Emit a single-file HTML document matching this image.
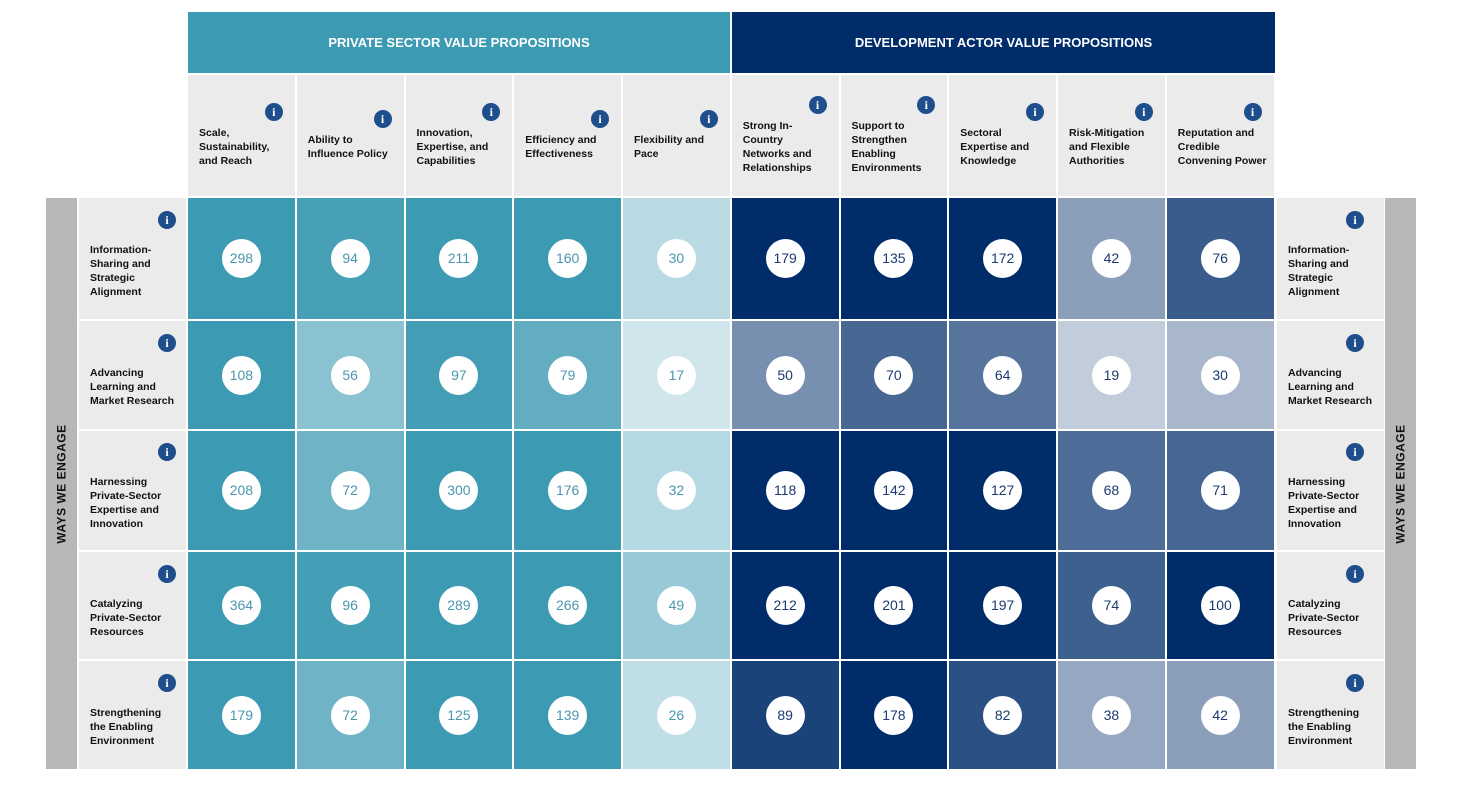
<!DOCTYPE html>
<html><head><meta charset="utf-8"><style>
body{margin:0;width:1460px;height:792px;background:#fff;font-family:"Liberation Sans",sans-serif;position:relative;overflow:hidden}
.a{position:absolute;box-sizing:border-box}
.hdr{color:#fff;font-weight:bold;font-size:13px;display:flex;align-items:center;justify-content:center}
.ch{background:#ebebeb;font-weight:bold;font-size:10.5px;line-height:14px;color:#111;padding-left:11px}
.ch span{position:absolute;left:11px;bottom:0;white-space:nowrap}
.info{position:absolute;width:18px;height:18px;border-radius:50%;background:#1f4e8c;color:#fff;font:bold 12px "Liberation Serif",serif;text-align:center;line-height:18px}
.rl{background:#ebebeb;font-weight:bold;font-size:10.5px;line-height:14px;color:#111}
.circ{position:absolute;width:39px;height:39px;border-radius:50%;background:#fff;text-align:center;line-height:39px;font-size:14px}
.side{background:#b7b7b7;color:#111;font-weight:bold;font-size:12px;display:flex;align-items:center;justify-content:center}
.side div{transform:rotate(-90deg);white-space:nowrap;letter-spacing:.5px}
</style></head><body>
<div class="a hdr" style="left:188px;top:12px;width:542px;height:61px;background:#3d9ab3">PRIVATE SECTOR VALUE PROPOSITIONS</div>
<div class="a hdr" style="left:732px;top:12px;width:543px;height:61px;background:#002d6a">DEVELOPMENT ACTOR VALUE PROPOSITIONS</div>
<div class="a side" style="left:46px;top:198px;width:31px;height:571px"><div>WAYS WE ENGAGE</div></div>
<div class="a side" style="left:1385px;top:198px;width:31px;height:571px"><div>WAYS WE ENGAGE</div></div>
<div id="grid"></div>
<script>
const columns=["Scale,<br>Sustainability,<br>and Reach","Ability to<br>Influence Policy","Innovation,<br>Expertise, and<br>Capabilities","Efficiency and<br>Effectiveness","Flexibility and<br>Pace","Strong In-<br>Country<br>Networks and<br>Relationships","Support to<br>Strengthen<br>Enabling<br>Environments","Sectoral<br>Expertise and<br>Knowledge","Risk-Mitigation<br>and Flexible<br>Authorities","Reputation and<br>Credible<br>Convening Power"];
const rows=["Information-<br>Sharing and<br>Strategic<br>Alignment","Advancing<br>Learning and<br>Market Research","Harnessing<br>Private-Sector<br>Expertise and<br>Innovation","Catalyzing<br>Private-Sector<br>Resources","Strengthening<br>the Enabling<br>Environment"];
const values=[
[298,94,211,160,30,179,135,172,42,76],
[108,56,97,79,17,50,70,64,19,30],
[208,72,300,176,32,118,142,127,68,71],
[364,96,289,266,49,212,201,197,74,100],
[179,72,125,139,26,89,178,82,38,42]];
const rowTop=[198,321,431,552,661], rowBot=[319,429,550,659,769];
const g=document.getElementById('grid');
const cx=i=>188+i*108.75, cw=106.75;
function mix(a,b,t){return 'rgb('+a.map((v,i)=>Math.round(v+(b[i]-v)*t)).join(',')+')';}
function color(v,c){const t=Math.min(v/100,1);return c<5?mix([238,246,248],[61,154,179],t):mix([240,242,246],[0,45,106],t);}
function mk(cls,style,html){const d=document.createElement('div');d.className=cls;d.style.cssText=style;d.innerHTML=html||'';g.appendChild(d);return d;}
columns.forEach((c,i)=>{
 const lines=c.split('<br>').length;
 const d=mk('a ch',`left:${cx(i)}px;top:75px;width:${cw}px;height:121px`,`<span style="bottom:${(4-lines)*7+21}px">${c}</span><div class="info" style="left:${cw-30}px;top:${(4-lines)*7+21}px">i</div>`);
 
 
});
rows.forEach((r,j)=>{
 const h=rowBot[j]-rowTop[j], lines=r.split('<br>').length, th=lines*14, ty=(h-th)/2+12;
 [79,1277].forEach((x,k)=>{
  const d=mk('a rl',`left:${x}px;top:${rowTop[j]}px;width:107px;height:${h}px`,`<div style="position:absolute;left:11px;top:${ty}px">${r}</div><div class="info" style="left:${k?69:79}px;top:${ty-32}px">i</div>`);
  
  
 });
 values[j].forEach((v,i)=>{
  const d=mk('a',`left:${cx(i)}px;top:${rowTop[j]}px;width:${cw}px;height:${h}px;background:${color(v,i)}`,`<div class="circ" style="left:${cw/2-19.5}px;top:${h/2-19.5}px;color:${i<5?'#4a97b0':'#1c3b6e'}">${v}</div>`);
  
  
 });
});
</script>
</body></html>
